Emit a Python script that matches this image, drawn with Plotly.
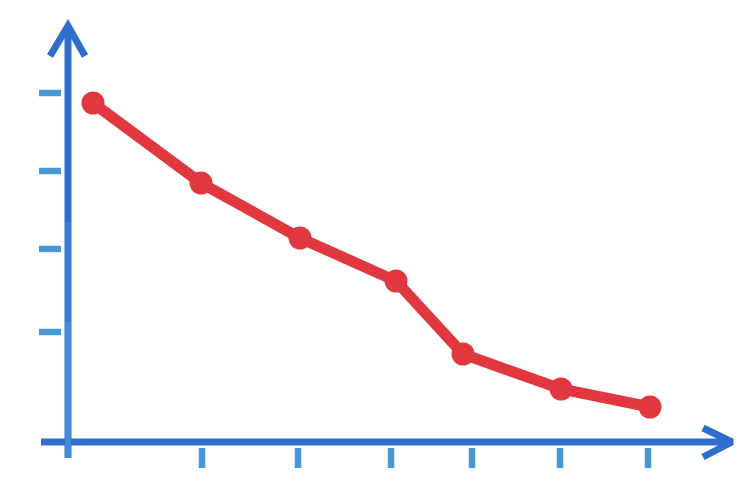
import plotly.graph_objects as go

# values (chart units: 10 px per unit, origin at the axis corner)
x_vals = [2.5, 13.3, 23.2, 32.8, 39.5, 49.3, 58.2]
y_vals = [33.9, 25.9, 20.4, 16.1, 8.8, 5.3, 3.5]
x_ticks = [13.4, 23.0, 32.3, 40.4, 49.2, 58.0]
y_ticks = [34.9, 27.1, 19.3, 11.0]

AXIS_BLUE = "#2f6fcc"
TICK_BLUE = "#4898d6"
RED = "#df2830"

fig = go.Figure()

# axis lines
fig.add_trace(go.Scatter(x=[0, 0], y=[-1.6, 41.2], mode="lines",
                         line=dict(color=AXIS_BLUE, width=7)))
fig.add_trace(go.Scatter(x=[-2.7, 66.0], y=[0, 0], mode="lines",
                         line=dict(color=AXIS_BLUE, width=7)))
# lighter wash on lower part of the y axis
fig.add_trace(go.Scatter(x=[0, 0], y=[-1.6, 12], mode="lines",
                         line=dict(color="#4f9fdc", width=6), opacity=0.6))
fig.add_trace(go.Scatter(x=[0, 0], y=[12, 22], mode="lines",
                         line=dict(color="#4f9fdc", width=6), opacity=0.3))

# arrow heads
fig.add_trace(go.Scatter(x=[-1.8, 0, 1.7], y=[38.6, 41.6, 38.6], mode="lines",
                         line=dict(color=AXIS_BLUE, width=7)))
fig.add_trace(go.Scatter(x=[63.5, 66.4, 63.5], y=[1.4, 0, -1.5], mode="lines",
                         line=dict(color=AXIS_BLUE, width=7)))

# tick marks
for t in y_ticks:
    fig.add_trace(go.Scatter(x=[-2.9, -0.7], y=[t, t], mode="lines",
                             line=dict(color=TICK_BLUE, width=6.5)))
for t in x_ticks:
    fig.add_trace(go.Scatter(x=[t, t], y=[-0.6, -2.6], mode="lines",
                             line=dict(color=TICK_BLUE, width=6.5)))

# the red series
fig.add_trace(go.Scatter(x=x_vals, y=y_vals, mode="lines+markers",
                         line=dict(color=RED, width=11),
                         marker=dict(color=RED, size=23), opacity=0.92))

# ranges shifted by 0.8 units to allow for the page's 8 px body margin
fig.update_layout(
    width=750, height=500,
    margin=dict(l=0, r=0, t=0, b=0),
    paper_bgcolor="white", plot_bgcolor="white",
    showlegend=False,
    xaxis=dict(range=[-6.0, 69.0], visible=False),
    yaxis=dict(range=[-6.6, 43.4], visible=False),
)

fig.write_html("out.html")
